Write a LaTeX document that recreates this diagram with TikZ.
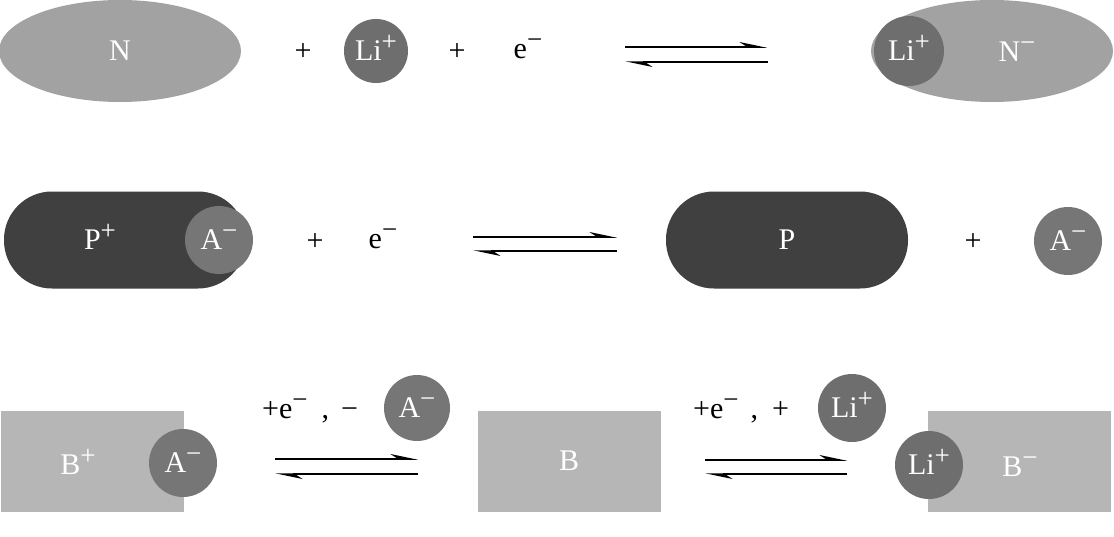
\documentclass[tikz,border=0pt]{standalone}
\usepackage{fontspec}
\setmainfont{Liberation Serif}
\usetikzlibrary{shapes.geometric,arrows.meta}
\definecolor{ngray}{RGB}{162,162,162}
\definecolor{ligray}{RGB}{110,110,110}
\definecolor{agray}{RGB}{118,118,118}
\definecolor{pgray}{RGB}{64,64,64}
\definecolor{bgray}{RGB}{182,182,182}
\newcommand{\supr}[1]{\smash{\raisebox{10pt}{\fontsize{27}{27}\selectfont #1}}}
\begin{document}
\begin{tikzpicture}[x=1pt,y=-1pt,font=\fontsize{30}{34}\selectfont,
  ovalmol/.style={ellipse,inner sep=0,fill=ngray,text=white},
  ionball/.style={circle,inner sep=0,minimum size=68,text=white},
  stadium/.style={rectangle,rounded corners=48pt,inner sep=0,minimum width=242,minimum height=97,fill=pgray,text=white},
  boxmol/.style={rectangle,inner sep=0,minimum width=183,minimum height=101,fill=bgray,text=white},
  wtext/.style={text=white,inner sep=0},
  btext/.style={text=black,inner sep=0},
  eqline/.style={line width=1.5pt,-{Stealth[left,length=24pt,width=10pt]}}]
\useasboundingbox (0,0) rectangle (1114,536);
\fill[white] (0,0) rectangle (1114,536);

% Row 1
\node[ovalmol,minimum width=242,minimum height=102] (N) at (120,51) {N};
\node[btext] (p1) at (303,52) {+};
\node[ionball,fill=ligray,minimum size=64] (Li1) at (376,51) {Li\supr{+}};
\node[btext] (p2) at (457,52) {+};
\node[btext] (e1) at (528,52) {e\supr{−}};
\coordinate (r1a) at (625,47); \coordinate (r1b) at (767,47);
\coordinate (r1c) at (768,62); \coordinate (r1d) at (625,62);
\draw[eqline] (r1a) -- (r1b);
\draw[eqline] (r1c) -- (r1d);
\node[ovalmol,minimum width=242,minimum height=102] (Nm) at (992,51) {};
\node[wtext] (Nmt) at (1017,52) {N\supr{−}};
\node[ionball,fill=ligray,minimum size=70] (Li2) at (909,51) {Li\supr{+}};

% Row 2
\node[stadium] (Pp) at (125,240) {};
\node[wtext] (Ppt) at (100,240) {P\supr{+}};
\node[ionball,fill=agray] (A1) at (219,240) {A\supr{−}};
\node[btext] (p3) at (315,242) {+};
\node[btext] (e2) at (383,242) {e\supr{−}};
\coordinate (r2a) at (473,237); \coordinate (r2b) at (617,237);
\coordinate (r2c) at (617,251); \coordinate (r2d) at (473,251);
\draw[eqline] (r2a) -- (r2b);
\draw[eqline] (r2c) -- (r2d);
\node[stadium] (P) at (787,240) {P};
\node[btext] (p4) at (973,242) {+};
\node[ionball,fill=agray] (A2) at (1068,241) {A\supr{−}};

% Row 3
\node[boxmol] (Bp) at (92,461) {};
\node[wtext] (Bpt) at (78,465) {B\supr{+}};
\node[ionball,fill=agray] (A3) at (183,463) {A\supr{−}};
\node[btext,anchor=base west] (lab1) at (262,418) {+e\supr{−}\hspace{14pt},\hspace{12pt}−};
\node[ionball,fill=agray,minimum size=66] (A4) at (417,408) {A\supr{−}};
\coordinate (r3a) at (275,459); \coordinate (r3b) at (418,459);
\coordinate (r3c) at (418,474); \coordinate (r3d) at (275,474);
\draw[eqline] (r3a) -- (r3b);
\draw[eqline] (r3c) -- (r3d);
\node[boxmol] (B) at (569,461) {B};
\node[btext,anchor=base west] (lab2) at (693,418) {+e\supr{−}\hspace{12pt},\hspace{14pt}+};
\node[ionball,fill=ligray,minimum size=68] (Li3) at (852,408) {Li\supr{+}};
\coordinate (r4a) at (705,460); \coordinate (r4b) at (847,460);
\coordinate (r4c) at (847,474); \coordinate (r4d) at (705,474);
\draw[eqline] (r4a) -- (r4b);
\draw[eqline] (r4c) -- (r4d);
\node[boxmol] (Bm) at (1019,461) {};
\node[wtext] (Bmt) at (1020,467) {B\supr{−}};
\node[ionball,fill=ligray] (Li4) at (929,465) {Li\supr{+}};
\end{tikzpicture}
\end{document}
